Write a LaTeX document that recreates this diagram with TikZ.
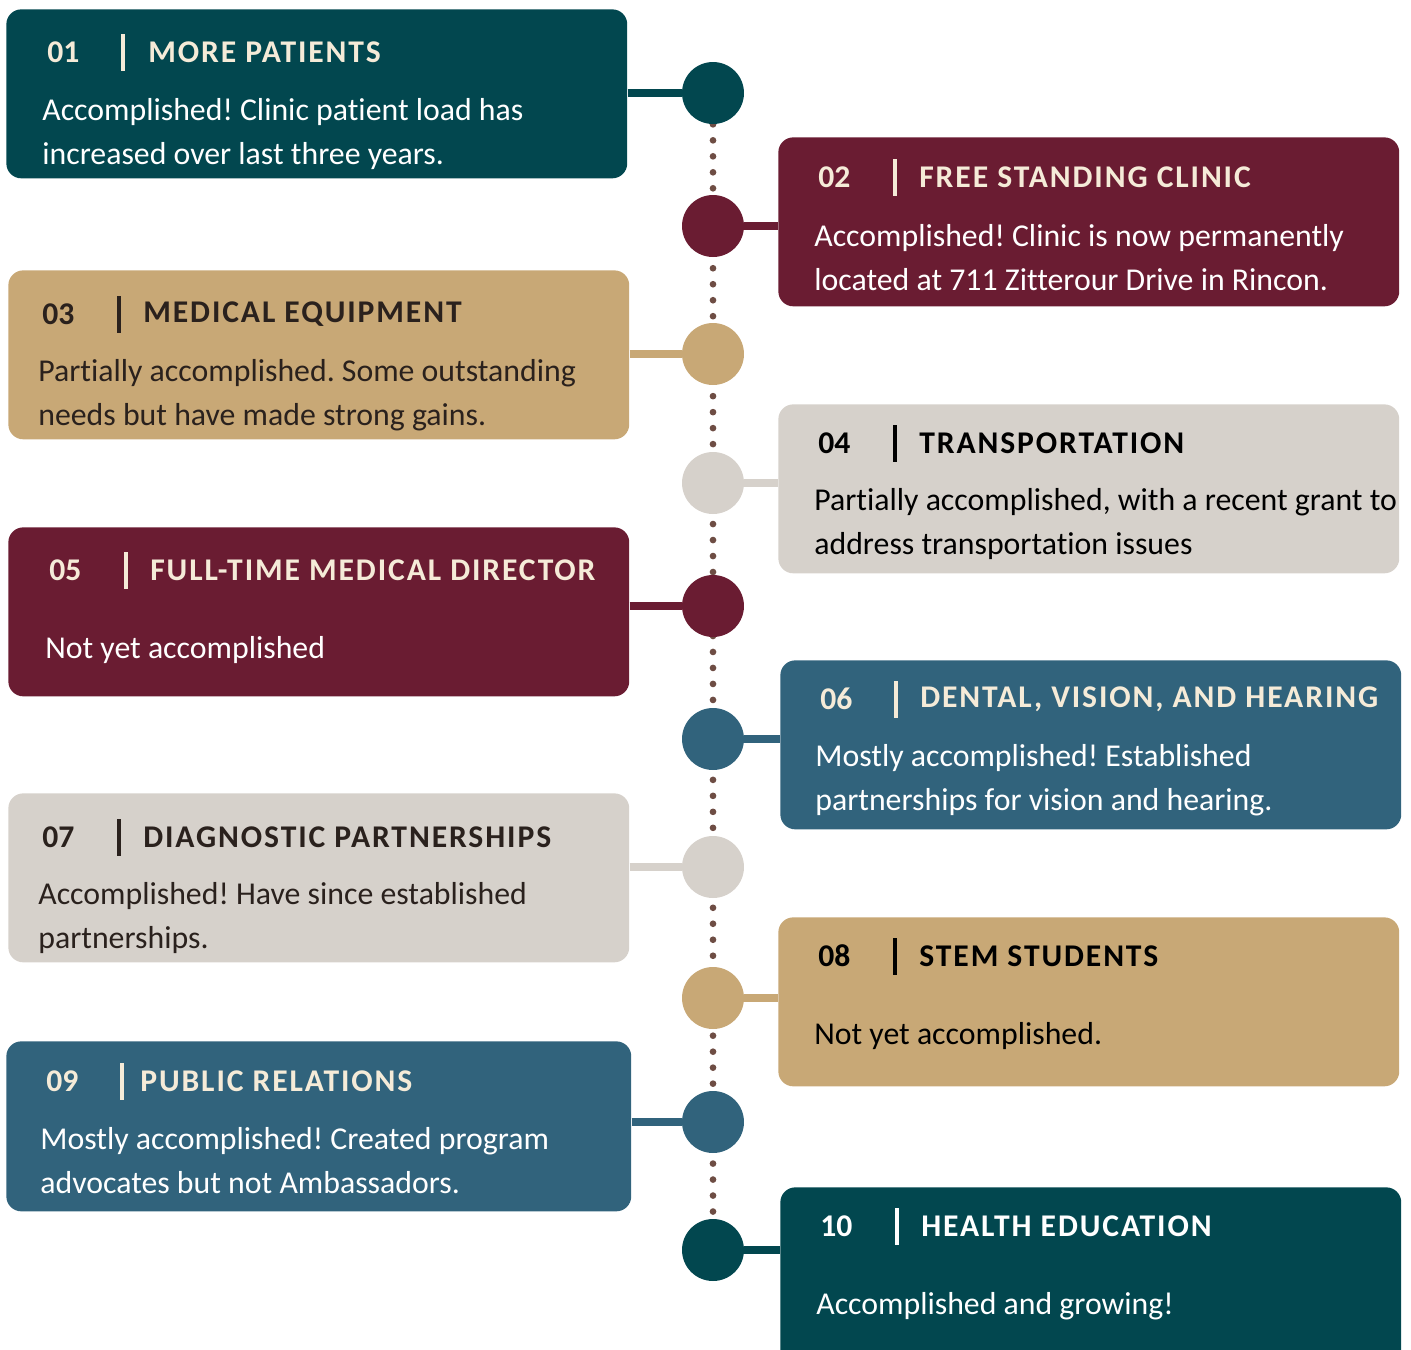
\documentclass[tikz,border=0pt]{standalone}
\usepackage{fontspec}
\setmainfont{Carlito}[Ligatures=NoCommon]
\usetikzlibrary{backgrounds}
\definecolor{msTeal}{HTML}{02474F}
\definecolor{msWine}{HTML}{6A1C32}
\definecolor{msTan}{HTML}{C8A876}
\definecolor{msStone}{HTML}{D6D1CB}
\definecolor{msSteel}{HTML}{31637C}
\definecolor{msCream}{HTML}{F5EBD8}
\definecolor{msInk}{HTML}{2A211D}
\definecolor{msDot}{HTML}{6E4D44}
\tikzset{
  card/.style={rounded corners=8.5pt, anchor=north west, inner sep=0pt,
               minimum width=12.42cm, minimum height=3.38cm},
  num/.style={anchor=west, inner sep=0pt, font=\fontsize{18}{22}\selectfont\bfseries},
  ttl/.style={anchor=west, inner sep=0pt,
              font=\fontsize{18}{22}\selectfont\bfseries\addfontfeature{LetterSpace=6}},
  bar/.style={anchor=north, inner sep=0pt, minimum width=1.8pt, minimum height=0.74cm},
  body/.style={anchor=west, inner sep=0pt, align=left,
               font=\fontsize{18.1}{25}\selectfont},
  dot/.style={circle, inner sep=0pt, minimum size=1.24cm},
  link/.style={line width=4.2pt},
  dotline/.style={draw=msDot, line width=3.8pt, line cap=round,
                  dash pattern=on 0pt off 9.1pt},
}
\frenchspacing
\begin{document}
\begin{tikzpicture}[x=0.02cm, y=-0.02cm]
  \useasboundingbox (0,0) rectangle (1411,1350);

  % milestones on the spine
  \foreach \i/\y/\c in {1/93/msTeal,2/226/msWine,3/354/msTan,4/483/msStone,
                        5/606/msWine,6/739/msSteel,7/867/msStone,8/998/msTan,
                        9/1122/msSteel,10/1250/msTeal}{
    \node[dot,fill=\c] (c\i) at (713,\y) {};
  }
  \begin{scope}[on background layer]
    \draw[dotline] (c1) -- (c10);
  \end{scope}

  % 01 more patients
  \node[card,fill=msTeal] (b1) at (6,9) {};
  \node[num,text=msCream] (n1) at ([shift={(41,43)}]b1.north west) {01};
  \node[bar,fill=msCream] (r1) at ([shift={(117,25)}]b1.north west) {};
  \node[ttl,text=msCream] (t1) at ([shift={(142,43)}]b1.north west) {MORE PATIENTS};
  \node[body,text=white] (d1) at ([shift={(36,125)}]b1.north west)
    {Accomplished! Clinic patient load has\\increased over last three years.};
  \draw[link,msTeal] (b1.east |- c1) -- (c1);

  % 02 free standing clinic
  \node[card,fill=msWine] (b2) at (778,137) {};
  \node[num,text=msCream] (n2) at ([shift={(40,40)}]b2.north west) {02};
  \node[bar,fill=msCream] (r2) at ([shift={(117,22)}]b2.north west) {};
  \node[ttl,text=msCream] (t2) at ([shift={(141,40)}]b2.north west) {FREE STANDING CLINIC};
  \node[body,text=white] (d2) at ([shift={(36,121)}]b2.north west)
    {Accomplished! Clinic is now permanently\\located at 711 Zitterour Drive in Rincon.};
  \draw[link,msWine] (c2) -- (b2.west |- c2);

  % 03 medical equipment
  \node[card,fill=msTan] (b3) at (8,270) {};
  \node[num,text=msInk] (n3) at ([shift={(34,44)}]b3.north west) {03};
  \node[bar,fill=msInk] (r3) at ([shift={(111,26)}]b3.north west) {};
  \node[ttl,text=msInk] (t3) at ([shift={(135,44)}]b3.north west) {MEDICAL EQUIPMENT};
  \node[body,text=msInk] (d3) at ([shift={(30,125)}]b3.north west)
    {Partially accomplished. Some outstanding\\needs but have made strong gains.};
  \draw[link,msTan] (b3.east |- c3) -- (c3);

  % 04 transportation
  \node[card,fill=msStone] (b4) at (778,404) {};
  \node[num,text=black] (n4) at ([shift={(40,39)}]b4.north west) {04};
  \node[bar,fill=black] (r4) at ([shift={(117,21)}]b4.north west) {};
  \node[ttl,text=black] (t4) at ([shift={(141,39)}]b4.north west) {TRANSPORTATION};
  \node[body,text=black] (d4) at ([shift={(36,120)}]b4.north west)
    {Partially accomplished, with a recent grant to\\address transportation issues};
  \draw[link,msStone] (c4) -- (b4.west |- c4);

  % 05 full-time medical director
  \node[card,fill=msWine] (b5) at (8,527) {};
  \node[num,text=msCream] (n5) at ([shift={(41,43)}]b5.north west) {05};
  \node[bar,fill=msCream] (r5) at ([shift={(118,25)}]b5.north west) {};
  \node[ttl,text=msCream] (t5) at ([shift={(142,43)}]b5.north west) {FULL-TIME MEDICAL DIRECTOR};
  \node[body,text=white] (d5) at ([shift={(37,123)}]b5.north west) {Not yet accomplished};
  \draw[link,msWine] (b5.east |- c5) -- (c5);

  % 06 dental, vision, and hearing
  \node[card,fill=msSteel] (b6) at (780,660) {};
  \node[num,text=msCream] (n6) at ([shift={(40,39)}]b6.north west) {06};
  \node[bar,fill=msCream] (r6) at ([shift={(116,21)}]b6.north west) {};
  \node[ttl,text=msCream] (t6) at ([shift={(140,39)}]b6.north west) {DENTAL, VISION, AND HEARING};
  \node[body,text=white] (d6) at ([shift={(35,120)}]b6.north west)
    {Mostly accomplished! Established\\partnerships for vision and hearing.};
  \draw[link,msSteel] (c6) -- (b6.west |- c6);

  % 07 diagnostic partnerships
  \node[card,fill=msStone] (b7) at (8,793) {};
  \node[num,text=msInk] (n7) at ([shift={(34,44)}]b7.north west) {07};
  \node[bar,fill=msInk] (r7) at ([shift={(111,26)}]b7.north west) {};
  \node[ttl,text=msInk] (t7) at ([shift={(135,44)}]b7.north west) {DIAGNOSTIC PARTNERSHIPS};
  \node[body,text=msInk] (d7) at ([shift={(30,125)}]b7.north west)
    {Accomplished! Have since established\\partnerships.};
  \draw[link,msStone] (b7.east |- c7) -- (c7);

  % 08 stem students
  \node[card,fill=msTan] (b8) at (778,917) {};
  \node[num,text=black] (n8) at ([shift={(40,39)}]b8.north west) {08};
  \node[bar,fill=black] (r8) at ([shift={(117,21)}]b8.north west) {};
  \node[ttl,text=black] (t8) at ([shift={(141,39)}]b8.north west) {STEM STUDENTS};
  \node[body,text=black] (d8) at ([shift={(36,119)}]b8.north west) {Not yet accomplished.};
  \draw[link,msTan] (c8) -- (b8.west |- c8);

  % 09 public relations
  \node[card,fill=msSteel,minimum width=12.5cm,minimum height=3.4cm] (b9) at (6,1041) {};
  \node[num,text=msCream] (n9) at ([shift={(40,40)}]b9.north west) {09};
  \node[bar,fill=msCream] (r9) at ([shift={(116,22)}]b9.north west) {};
  \node[ttl,text=msCream] (t9) at ([shift={(134,40)}]b9.north west) {PUBLIC RELATIONS};
  \node[body,text=white] (d9) at ([shift={(34,120)}]b9.north west)
    {Mostly accomplished! Created program\\advocates but not Ambassadors.};
  \draw[link,msSteel] (b9.east |- c9) -- (c9);

  % 10 health education
  \node[card,fill=msTeal,minimum height=3.6cm] (b10) at (780,1187) {};
  \node[num,text=white] (n10) at ([shift={(40,39)}]b10.north west) {10};
  \node[bar,fill=white] (r10) at ([shift={(117,21)}]b10.north west) {};
  \node[ttl,text=white] (t10) at ([shift={(141,39)}]b10.north west) {HEALTH EDUCATION};
  \node[body,text=white] (d10) at ([shift={(36,119)}]b10.north west) {Accomplished and growing!};
  \draw[link,msTeal] (c10) -- (b10.west |- c10);
\end{tikzpicture}
\end{document}
